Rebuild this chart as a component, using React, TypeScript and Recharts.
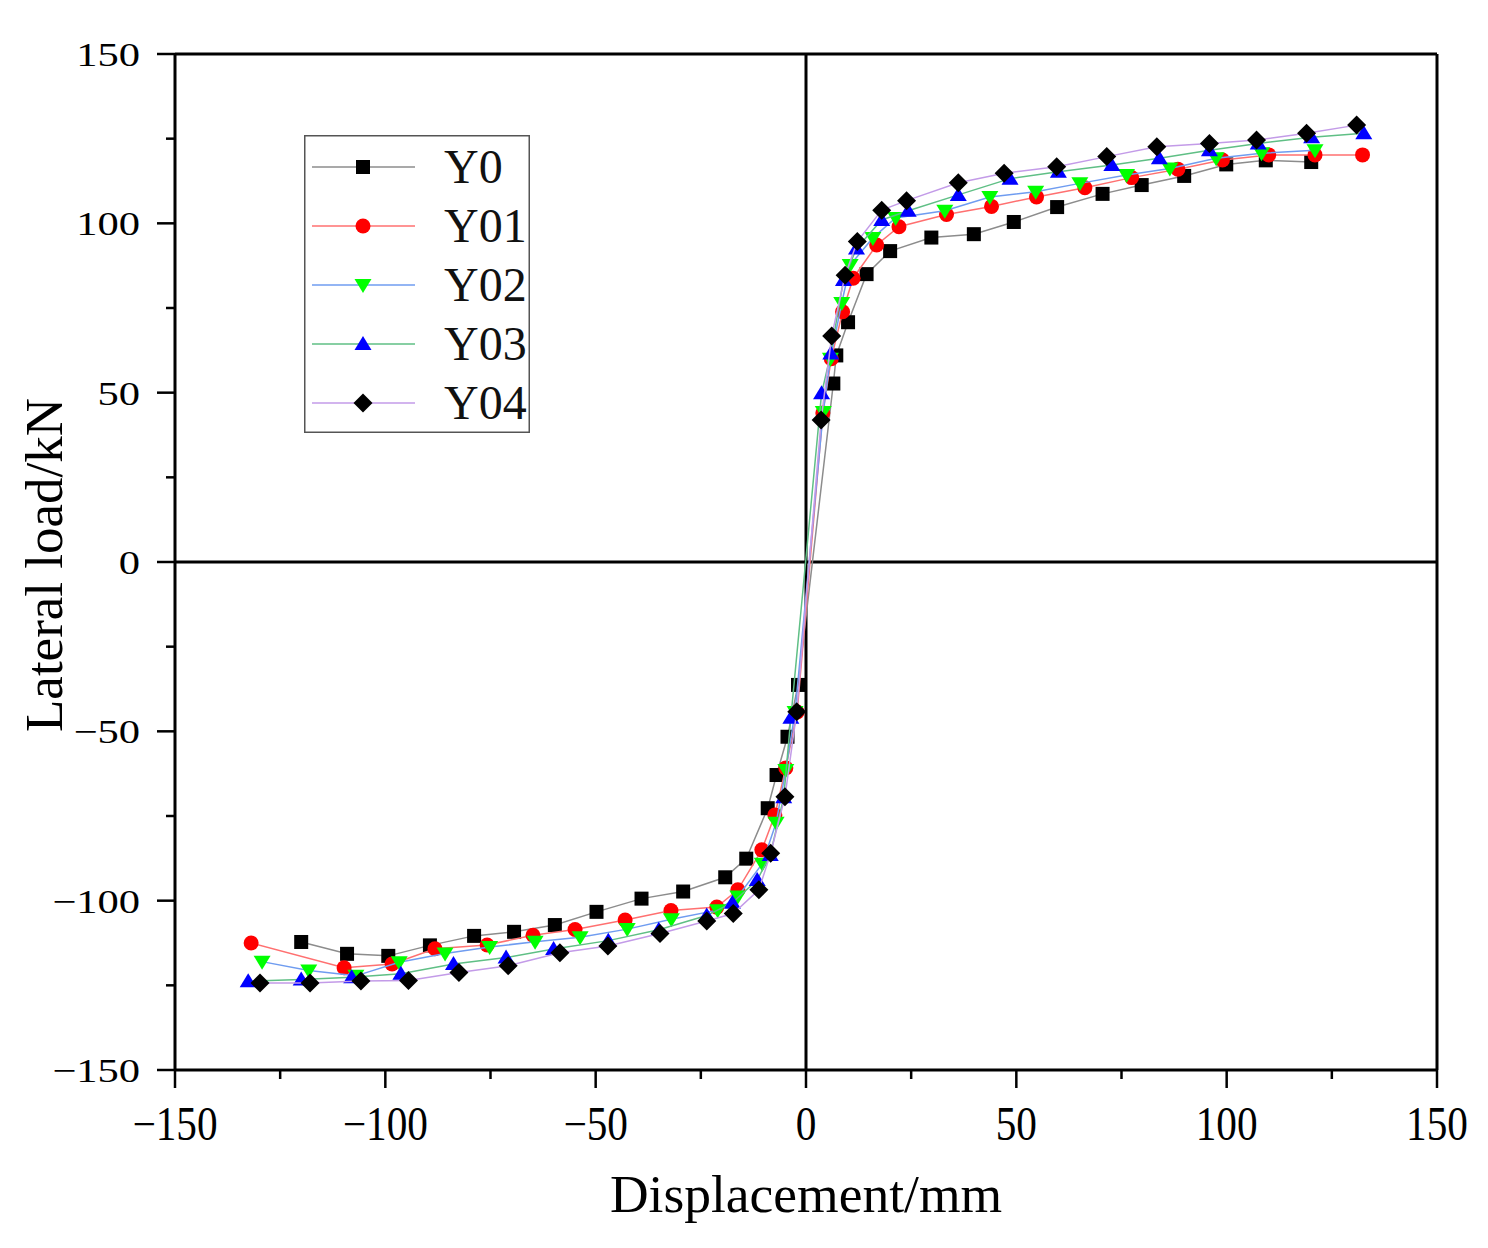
import React from 'react';
import { ScatterChart, Scatter, XAxis, YAxis, ReferenceLine, Legend } from 'recharts';

const xTicks = [-150, -125, -100, -75, -50, -25, 0, 25, 50, 75, 100, 125, 150];
const yTicks = [-150, -125, -100, -75, -50, -25, 0, 25, 50, 75, 100, 125, 150];
const seriesNames = ['Y0', 'Y01', 'Y02', 'Y03', 'Y04'];

const y0Data = [
  { x: -120, y: -112.2 }, { x: -109.1, y: -115.7 }, { x: -99.3, y: -116.3 }, { x: -89.4, y: -113.2 },
  { x: -78.9, y: -110.4 }, { x: -69.4, y: -109.2 }, { x: -59.7, y: -107.2 }, { x: -49.8, y: -103.3 },
  { x: -39.1, y: -99.4 }, { x: -29.2, y: -97.3 }, { x: -19.2, y: -93.1 }, { x: -14.2, y: -87.6 },
  { x: -9.1, y: -72.7 }, { x: -7, y: -62.9 }, { x: -4.4, y: -51.6 }, { x: -1.9, y: -36.3 },
  { x: 6.5, y: 52.7 }, { x: 7.2, y: 61 }, { x: 10, y: 70.8 }, { x: 14.4, y: 85 }, { x: 20, y: 91.8 },
  { x: 29.8, y: 95.8 }, { x: 39.9, y: 96.8 }, { x: 49.4, y: 100.4 }, { x: 59.7, y: 104.8 },
  { x: 70.5, y: 108.7 }, { x: 79.8, y: 111.3 }, { x: 89.9, y: 114 }, { x: 99.9, y: 117.4 },
  { x: 109.3, y: 118.6 }, { x: 120.1, y: 118.1 },
];

const y01Data = [
  { x: -131.9, y: -112.5 }, { x: -109.8, y: -119.8 }, { x: -98.4, y: -118.7 }, { x: -88.2, y: -114.2 },
  { x: -75.8, y: -113.1 }, { x: -64.9, y: -110.2 }, { x: -54.9, y: -108.5 }, { x: -43, y: -105.7 },
  { x: -32.1, y: -102.9 }, { x: -21.2, y: -101.9 }, { x: -16.2, y: -96.8 }, { x: -10.5, y: -85 },
  { x: -7.4, y: -74.7 }, { x: -4.8, y: -60.8 }, { x: -2.1, y: -44.3 },
  { x: 4, y: 44 }, { x: 6, y: 60 }, { x: 8.7, y: 73.9 }, { x: 11.2, y: 83.8 }, { x: 16.8, y: 93.6 },
  { x: 22.1, y: 99 }, { x: 33.4, y: 102.6 }, { x: 44.1, y: 105 }, { x: 54.8, y: 107.8 },
  { x: 66.3, y: 110.5 }, { x: 77.4, y: 113.5 }, { x: 88.4, y: 116 }, { x: 99, y: 118.7 },
  { x: 110, y: 120.2 }, { x: 121, y: 120.2 }, { x: 132.3, y: 120.2 },
];

const y02Data = [
  { x: -129.3, y: -118 }, { x: -118.2, y: -120.6 }, { x: -107, y: -122.2 }, { x: -96.7, y: -118.2 },
  { x: -85.8, y: -115.6 }, { x: -75.2, y: -113.7 }, { x: -64.4, y: -112.1 }, { x: -53.7, y: -110.8 },
  { x: -42.5, y: -108.4 }, { x: -32, y: -105.5 }, { x: -21, y: -102.8 }, { x: -16.2, y: -98.8 },
  { x: -10.4, y: -89.1 }, { x: -7.1, y: -77 }, { x: -4.8, y: -61.4 }, { x: -2.6, y: -44.3 },
  { x: 4.1, y: 44.3 }, { x: 5.8, y: 60 }, { x: 8.5, y: 76.5 }, { x: 10.5, y: 87.7 }, { x: 15.9, y: 95.7 },
  { x: 21.3, y: 101.6 }, { x: 33, y: 103.7 }, { x: 43.7, y: 107.8 }, { x: 54.6, y: 109.3 },
  { x: 65.1, y: 111.8 }, { x: 76.2, y: 114.3 }, { x: 86.5, y: 116.2 }, { x: 97.5, y: 119.2 },
  { x: 108.3, y: 120.7 }, { x: 121, y: 121.6 },
];

const y03Data = [
  { x: -132.6, y: -123.8 }, { x: -120, y: -123.3 }, { x: -108, y: -122.6 }, { x: -96.3, y: -121.6 },
  { x: -83.8, y: -118.7 }, { x: -71.3, y: -116.8 }, { x: -60, y: -114.3 }, { x: -47, y: -111.8 },
  { x: -35, y: -108.6 }, { x: -23.6, y: -104.4 }, { x: -17.5, y: -100.6 }, { x: -11.6, y: -93.9 },
  { x: -8.5, y: -86.5 }, { x: -5.3, y: -69.5 }, { x: -3.6, y: -46 },
  { x: 3.7, y: 49.8 }, { x: 5.9, y: 61.6 }, { x: 8.9, y: 83.3 }, { x: 12, y: 92.6 }, { x: 18, y: 101 },
  { x: 24.3, y: 103.7 }, { x: 36.2, y: 108.4 }, { x: 48.5, y: 113.2 }, { x: 60, y: 115.2 },
  { x: 72.7, y: 117.2 }, { x: 84, y: 119.2 }, { x: 95.9, y: 121.6 }, { x: 107.5, y: 123.6 },
  { x: 120.2, y: 125.4 }, { x: 132.6, y: 126.6 },
];

const y04Data = [
  { x: -129.8, y: -124.3 }, { x: -117.9, y: -124.3 }, { x: -105.8, y: -123.7 }, { x: -94.5, y: -123.6 },
  { x: -82.5, y: -121.2 }, { x: -70.8, y: -119.2 }, { x: -58.5, y: -115.4 }, { x: -47.1, y: -113.4 },
  { x: -34.7, y: -109.7 }, { x: -23.6, y: -106 }, { x: -17.3, y: -103.8 }, { x: -11.2, y: -96.8 },
  { x: -8.4, y: -86 }, { x: -5, y: -69.3 }, { x: -2.2, y: -44.2 },
  { x: 3.6, y: 41.9 }, { x: 6.1, y: 66.7 }, { x: 9.3, y: 84.7 }, { x: 12.2, y: 94.6 }, { x: 18, y: 103.9 },
  { x: 23.9, y: 106.7 }, { x: 36.2, y: 112 }, { x: 47.1, y: 114.8 }, { x: 59.6, y: 116.7 },
  { x: 71.5, y: 119.7 }, { x: 83.4, y: 122.6 }, { x: 95.9, y: 123.6 }, { x: 107.1, y: 124.6 },
  { x: 119, y: 126.6 }, { x: 130.9, y: 129 },
];

const FONT = '"Liberation Serif", "Times New Roman", serif';

type MarkerKind = 'square' | 'circle' | 'down' | 'up' | 'diamond';

function Marker({ kind, cx, cy, fill }: { kind: MarkerKind; cx: number; cy: number; fill: string }) {
  if (cx == null || cy == null || isNaN(cx) || isNaN(cy)) return null;
  switch (kind) {
    case 'square':
      return <rect x={cx - 7} y={cy - 7} width={14} height={14} fill={fill} />;
    case 'circle':
      return <circle cx={cx} cy={cy} r={7.5} fill={fill} />;
    case 'down':
      return <path d={`M${cx - 8.5},${cy - 6} L${cx + 8.5},${cy - 6} L${cx},${cy + 8} Z`} fill={fill} />;
    case 'up':
      return <path d={`M${cx - 8.5},${cy + 6} L${cx + 8.5},${cy + 6} L${cx},${cy - 8} Z`} fill={fill} />;
    case 'diamond':
    default:
      return <path d={`M${cx},${cy - 9.5} L${cx + 9.5},${cy} L${cx},${cy + 9.5} L${cx - 9.5},${cy} Z`} fill={fill} />;
  }
}

const series = [
  { name: seriesNames[0], data: y0Data, line: '#8c8c8c', marker: '#000000', kind: 'square' as MarkerKind },
  { name: seriesNames[1], data: y01Data, line: '#ff7070', marker: '#ff0000', kind: 'circle' as MarkerKind },
  { name: seriesNames[2], data: y02Data, line: '#6f9cf0', marker: '#00ff00', kind: 'down' as MarkerKind },
  { name: seriesNames[3], data: y03Data, line: '#5fbf85', marker: '#0000ff', kind: 'up' as MarkerKind },
  { name: seriesNames[4], data: y04Data, line: '#c39be8', marker: '#000000', kind: 'diamond' as MarkerKind },
];

const XTick = (props: any) => {
  const { x, y, payload } = props;
  const v = payload.value;
  const major = v % 50 === 0;
  const label = v < 0 ? `\u2212${Math.abs(v)}` : `${v}`;
  return (
    <g>
      <line x1={x} y1={y} x2={x} y2={y + (major ? 18 : 9)} stroke="#000" strokeWidth={2.5} />
      {major && (
        <text
          transform={`translate(${x},${y + 70}) scale(0.86,1)`}
          textAnchor="middle"
          fontFamily={FONT}
          fontSize={48}
          fill="#000"
        >
          {label}
        </text>
      )}
    </g>
  );
};

const YTick = (props: any) => {
  const { x, y, payload } = props;
  const v = payload.value;
  const major = v % 50 === 0;
  const label = v < 0 ? `\u2212${Math.abs(v)}` : `${v}`;
  return (
    <g>
      <line x1={x} y1={y} x2={x - (major ? 18 : 9)} y2={y} stroke="#000" strokeWidth={2.5} />
      {major && (
        <text
          transform={`translate(${x - 35},${y + 12}) scale(1.12,0.9)`}
          textAnchor="end"
          fontFamily={FONT}
          fontSize={38}
          fill="#000"
        >
          {label}
        </text>
      )}
    </g>
  );
};

const LegendBox = () => (
  <svg width={226} height={298} style={{ display: 'block' }}>
    <rect x={0.75} y={0.75} width={224.5} height={296.5} fill="#fff" stroke="#555" strokeWidth={1.5} />
    {series.map((s, i) => {
      const cy = 32 + i * 59;
      return (
        <g key={s.name}>
          <line x1={8} y1={cy} x2={111} y2={cy} stroke={s.line} strokeWidth={1.5} />
          <Marker kind={s.kind} cx={59} cy={cy} fill={s.marker} />
          <text x={140} y={cy + 16} fontFamily={FONT} fontSize={48} fill="#111">
            {s.name}
          </text>
        </g>
      );
    })}
  </svg>
);

export default function App() {
  return (
    <div style={{ position: 'absolute', left: 0, top: 0, width: 1488, height: 1248, background: '#fff' }}>
      <ScatterChart width={1488} height={1248} margin={{ top: 54, right: 51, bottom: 0, left: 0 }}>
        <XAxis
          type="number"
          dataKey="x"
          domain={[-150, 150]}
          ticks={xTicks}
          interval={0}
          height={178}
          tickSize={0}
          tickMargin={0}
          tickLine={false}
          tick={<XTick />}
          axisLine={{ stroke: '#000', strokeWidth: 3 }}
          allowDataOverflow
        />
        <YAxis
          type="number"
          dataKey="y"
          domain={[-150, 150]}
          ticks={yTicks}
          interval={0}
          width={175}
          tickSize={0}
          tickMargin={0}
          tickLine={false}
          tick={<YTick />}
          axisLine={{ stroke: '#000', strokeWidth: 3 }}
          allowDataOverflow
        />
        <ReferenceLine y={150} stroke="#000" strokeWidth={3} />
        <ReferenceLine x={150} stroke="#000" strokeWidth={3} />
        <ReferenceLine y={0} stroke="#000" strokeWidth={3} />
        <ReferenceLine x={0} stroke="#000" strokeWidth={3} />
        {series.map((s) => (
          <Scatter
            key={s.name}
            name={s.name}
            data={s.data}
            fill={s.marker}
            line={{ stroke: s.line, strokeWidth: 1.5 }}
            shape={(p: any) => <Marker kind={s.kind} cx={p.cx} cy={p.cy} fill={s.marker} />}
            isAnimationActive={false}
          />
        ))}
        <Legend
          layout="vertical"
          align="center"
          verticalAlign="middle"
          content={() => <LegendBox />}
          wrapperStyle={{ position: 'absolute', left: 304, top: 135, width: 226, height: 298 }}
        />
      </ScatterChart>
      <svg
        width={1488}
        height={1248}
        style={{ position: 'absolute', left: 0, top: 0, pointerEvents: 'none' }}
      >
        <text
          transform="translate(62,565) rotate(-90) scale(1.06,1.05)"
          textAnchor="middle"
          fontFamily={FONT}
          fontSize={50}
          fill="#000"
        >
          Lateral load/kN
        </text>
        <text
          transform="translate(806,1212) scale(1.07,1.05)"
          textAnchor="middle"
          fontFamily={FONT}
          fontSize={50}
          fill="#000"
        >
          Displacement/mm
        </text>
      </svg>
    </div>
  );
}
